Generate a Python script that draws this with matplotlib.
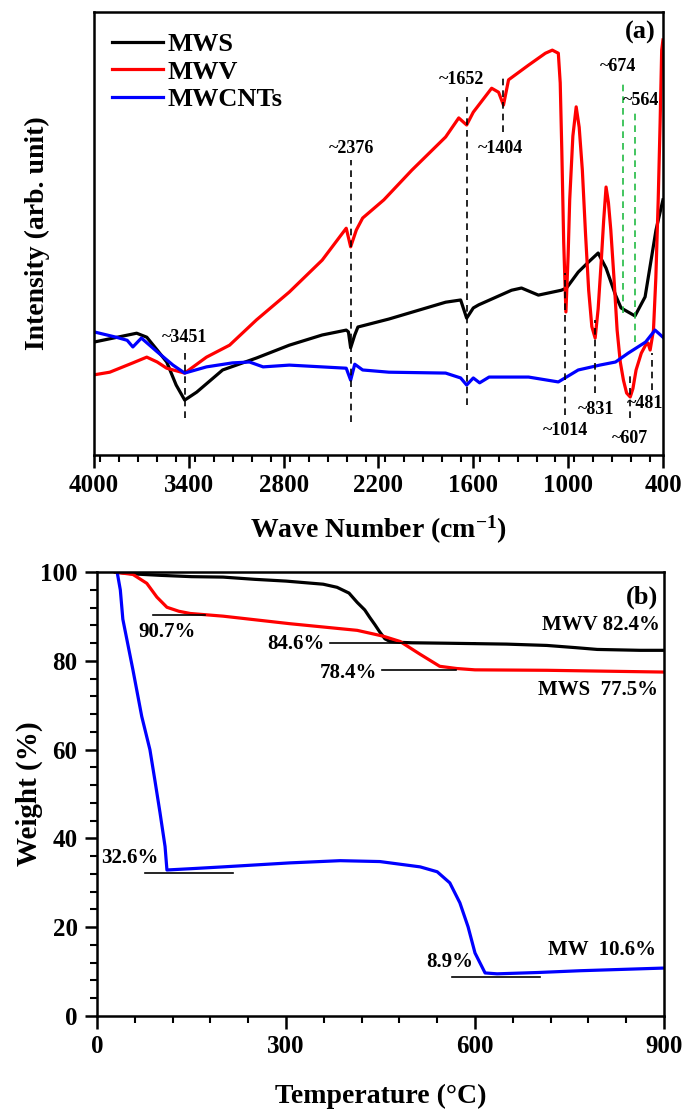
import matplotlib
matplotlib.use("Agg")
import matplotlib.pyplot as plt
from matplotlib.ticker import MultipleLocator

plt.rcParams['font.family'] = ['Liberation Serif', 'DejaVu Serif']
plt.rcParams['font.weight'] = 'bold'
plt.rcParams['axes.labelweight'] = 'bold'
plt.rcParams['mathtext.fontset'] = 'custom'
plt.rcParams['mathtext.rm'] = 'Liberation Serif:bold'
plt.rcParams['mathtext.default'] = 'rm'

# ---- FTIR (a) ----
mws_wn = [4000, 3730, 3666, 3600, 3540, 3480, 3426, 3350, 3186, 2972, 2764, 2556, 2404, 2390, 2376,
          2350, 2330, 2134, 1775, 1680, 1642, 1600, 1566, 1358, 1295, 1188, 1043, 1010, 936, 870,
          810, 760, 700, 665, 577, 513, 470, 444, 400]
mws_int = [25.5, 27.5, 26.6, 23.7, 21.0, 15.8, 12.4, 14.2, 19.2, 21.9, 24.8, 27.1, 28.2, 27.8, 24.2,
           27.1, 28.9, 30.7, 34.5, 35.0, 30.9, 33.2, 33.9, 37.2, 37.7, 36.1, 37.2, 37.7, 41.3, 43.6,
           45.6, 42.2, 36.1, 33.2, 31.4, 35.7, 45.1, 50.8, 57.6]

mwv_wn = [4000, 3900, 3754, 3666, 3600, 3540, 3426, 3288, 3142, 2972, 2764, 2556, 2404, 2376, 2340,
          2300, 2166, 1989, 1775, 1692, 1642, 1600, 1484, 1440, 1409, 1377, 1251, 1144, 1100, 1062,
          1050, 1040, 1028, 1014, 1000, 990, 970, 949, 930, 910, 890, 870, 850, 829, 810, 790, 775,
          760, 745, 730, 710, 690, 670, 650, 630, 607, 590, 570, 537, 510, 495, 481, 460, 445, 430,
          418, 408, 400]
mwv_int = [18.1, 18.7, 20.8, 22.1, 21.0, 19.6, 18.5, 22.1, 24.8, 30.5, 36.8, 44.0, 51.2, 47.0, 50.8,
           53.5, 57.6, 64.3, 71.8, 76.1, 74.5, 77.4, 82.8, 81.9, 79.0, 84.7, 88.0, 90.7, 91.4, 90.7,
           84.0, 68.8, 48.0, 32.3, 45.0, 57.6, 72.0, 78.6, 74.0, 64.3, 50.0, 37.2, 29.0, 26.4, 33.0,
           44.0, 53.0, 60.5, 57.0, 50.8, 40.0, 28.2, 21.0, 16.9, 14.0, 13.1, 15.0, 19.2, 23.0, 24.8,
           25.3, 23.7, 28.2, 40.0, 57.6, 75.0, 91.4, 93.7]

cnt_wn = [4000, 3860, 3790, 3754, 3700, 3600, 3500, 3426, 3288, 3124, 3016, 2930, 2764, 2404, 2376,
          2350, 2300, 2134, 1775, 1680, 1642, 1600, 1560, 1500, 1250, 1062, 936, 800, 700, 620,
          510, 450, 400]
cnt_int = [27.8, 26.6, 25.9, 24.4, 26.4, 23.3, 20.3, 18.5, 19.9, 20.8, 21.0, 19.9, 20.3, 19.6, 16.9,
           20.5, 19.2, 18.7, 18.5, 17.4, 15.8, 17.4, 16.3, 17.6, 17.6, 16.5, 19.2, 20.3, 21.0, 23.0,
           25.5, 28.2, 26.6]

# marked bands: position, line top, line bottom, label, label x, label y
band_pos = [3426, 2373, 1642, 1409, 1018, 829, 608, 469]
band_top = [23.0, 66.6, 80.8, 85.6, 41.1, 30.5, 18.5, 23.0]
band_bot = [8.4, 7.4, 11.3, 72.9, 9.0, 14.0, 8.4, 14.7]
band_lab = ['~3451', '~2376', '~1652', '~1404', '~1014', '~831', '~607', '~481']
band_lx = [3426, 2373, 1673, 1428, 1018, 822, 608, 513]
band_ly = [26.6, 69.3, 84.7, 69.3, 5.6, 10.2, 3.8, 11.7]

green_pos = [652, 576]
green_top = [84.0, 77.9]
green_bot = [32.1, 25.5]
green_lab = ['~674', '~564']
green_lx = [684, 539]
green_ly = [87.6, 80.1]

# ---- TGA (b) ----
tga_k_t = [30, 60, 100, 150, 200, 250, 300, 359, 381, 400, 413, 425, 433, 441, 449, 457, 465, 480,
           500, 555, 650, 714, 760, 794, 862, 900]
tga_k_w = [100, 99.6, 99.3, 99.0, 98.9, 98.4, 98.0, 97.3, 96.6, 95.3, 93.2, 91.5, 89.8, 88.2, 86.5,
           85.0, 84.4, 84.2, 84.1, 84.0, 83.8, 83.5, 83.0, 82.6, 82.4, 82.4]
tga_r_t = [29, 57, 79, 95, 111, 130, 148, 200, 306, 413, 454, 481, 513, 544, 571, 600, 714, 900]
tga_r_w = [100, 99.5, 97.5, 94.4, 92.1, 91.2, 90.7, 90.1, 88.4, 86.9, 85.6, 84.4, 81.5, 78.8, 78.3,
           78.0, 77.9, 77.5]
tga_b_t = [32, 37, 41, 57, 71, 84, 92, 100, 108, 111, 150, 200, 306, 386, 449, 513, 540, 560, 576,
           589, 600, 616, 635, 700, 767, 900]
tga_b_w = [100, 96, 89.4, 78, 67.5, 60, 53, 45.8, 38.2, 32.9, 33.2, 33.6, 34.5, 35.0, 34.8, 33.6,
           32.5, 30.0, 25.5, 20.1, 14.2, 9.7, 9.5, 9.8, 10.2, 10.8]

# residue marks: line start, line end, level, label, label x, label y
res_t0 = [89, 370, 452, 76, 564]
res_t1 = [171, 600, 570, 216, 703]
res_w = [90.3, 84.0, 77.9, 32.3, 8.8]
res_lab = ['90.7%', '84.6%', '78.4%', '32.6%', '8.9%']
res_lx = [111, 362, 444, 52, 597]
res_ly = [86.5, 83.8, 77.2, 35.7, 12.2]
res_ha = ['center', 'right', 'right', 'center', 'right']

end_lab = ['MWV 82.4%', 'MWS  77.5%', 'MW  10.6%']
end_lx = [894, 890, 887]
end_ly = [88.0, 73.4, 14.9]

fig = plt.figure(figsize=(6.9, 11.15), dpi=100)
ax1 = fig.add_axes([0.1362, 0.5919, 0.8246, 0.3973])
ax2 = fig.add_axes([0.1406, 0.0888, 0.8217, 0.398])

lw = 2.3
ax1.plot(mws_wn, mws_int, color='black', lw=lw, label='MWS')
ax1.plot(mwv_wn, mwv_int, color='#ff0000', lw=lw, label='MWV')
ax1.plot(cnt_wn, cnt_int, color='#0000ff', lw=lw, label='MWCNTs')

for p, t, b in zip(band_pos, band_top, band_bot):
    ax1.plot([p, p], [b, t], color='black', lw=1.2, ls=(0, (4, 3)))
for lab, x, y in zip(band_lab, band_lx, band_ly):
    ax1.text(x, y, lab, fontsize=13, ha='center', va='center')
for p, t, b in zip(green_pos, green_top, green_bot):
    ax1.plot([p, p], [b, t], color='#22bb44', lw=1.2, ls=(0, (4, 3)))
for lab, x, y in zip(green_lab, green_lx, green_ly):
    ax1.text(x, y, lab, fontsize=13, ha='center', va='center')

ax1.set_xlim(4000, 400)
ax1.set_ylim(0, 100)
ax1.xaxis.set_minor_locator(MultipleLocator(120))
ax1.set_xticks([4000, 3400, 2800, 2200, 1600, 1000, 400])
ax1.set_yticks([])
ax1.tick_params(axis='x', which='major', direction='out', length=9, width=1.8, labelsize=18, pad=5)
ax1.tick_params(axis='x', which='minor', direction='out', length=5, width=1.5)
ax1.set_xlabel('Wave Number (cm$^{-1}$)', fontsize=20, labelpad=12)
ax1.set_ylabel('Intensity (arb. unit)', fontsize=20, labelpad=32)
ax1.text(545, 95.5, '(a)', fontsize=19, ha='center', va='center')
ax1.legend(loc='upper left', bbox_to_anchor=(0.0, 0.995), frameon=False, fontsize=19,
           handlelength=1.9, handletextpad=0.2, labelspacing=0.15, borderaxespad=0.3)

ax2.plot(tga_k_t, tga_k_w, color='black', lw=lw)
ax2.plot(tga_r_t, tga_r_w, color='#ff0000', lw=lw)
ax2.plot(tga_b_t, tga_b_w, color='#0000ff', lw=lw)
for t0, t1, w in zip(res_t0, res_t1, res_w):
    ax2.plot([t0, t1], [w, w], color='black', lw=1.2)
for lab, x, y, ha in zip(res_lab, res_lx, res_ly, res_ha):
    ax2.text(x, y, lab, fontsize=15, ha=ha, va='center')
for lab, x, y in zip(end_lab, end_lx, end_ly):
    ax2.text(x, y, lab, fontsize=15, ha='right', va='center')
ax2.text(865, 94.4, '(b)', fontsize=19, ha='center', va='center')

ax2.set_xlim(0, 900)
ax2.set_ylim(0, 100)
ax2.xaxis.set_major_locator(MultipleLocator(300))
ax2.xaxis.set_minor_locator(MultipleLocator(60))
ax2.yaxis.set_major_locator(MultipleLocator(20))
ax2.yaxis.set_minor_locator(MultipleLocator(4))
ax2.tick_params(which='major', direction='out', length=9, width=1.8, labelsize=18, pad=5)
ax2.tick_params(which='minor', direction='out', length=5, width=1.5)
ax2.set_xlabel('Temperature (°C)', fontsize=20, labelpad=18)
ax2.set_ylabel('Weight (%)', fontsize=21, labelpad=-2)

for ax in (ax1, ax2):
    for s in ax.spines.values():
        s.set_linewidth(1.8)

fig.savefig('out.png', dpi=100)
